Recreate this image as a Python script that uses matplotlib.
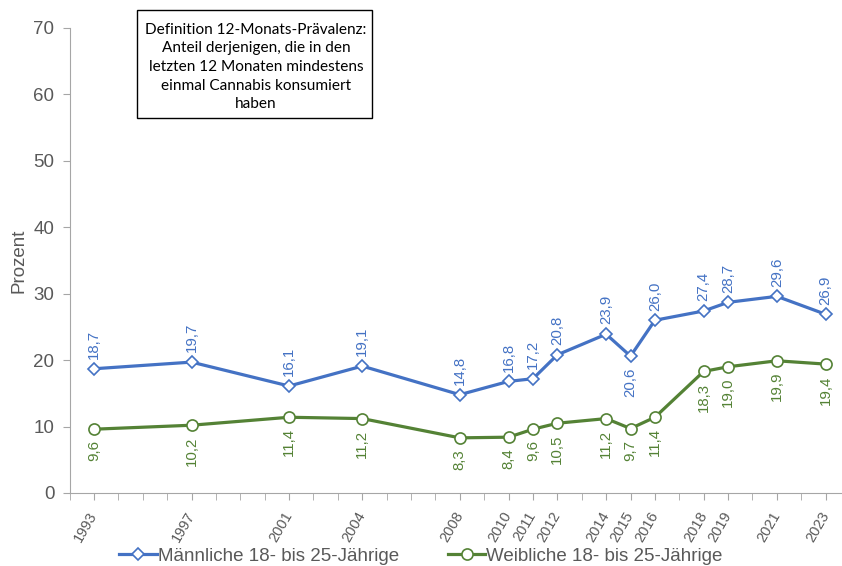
import matplotlib
matplotlib.use("Agg")
import matplotlib.pyplot as plt
from matplotlib.patches import Rectangle
from matplotlib.ticker import FixedLocator, MultipleLocator

years = [1993, 1997, 2001, 2004, 2008, 2010, 2011, 2012, 2014, 2015, 2016, 2018, 2019, 2021, 2023]
male = [18.7, 19.7, 16.1, 19.1, 14.8, 16.8, 17.2, 20.8, 23.9, 20.6, 26.0, 27.4, 28.7, 29.6, 26.9]
female = [9.6, 10.2, 11.4, 11.2, 8.3, 8.4, 9.6, 10.5, 11.2, 9.7, 11.4, 18.3, 19.0, 19.9, 19.4]
male_label = "Männliche 18- bis 25-Jährige"
female_label = "Weibliche 18- bis 25-Jährige"
y_label = "Prozent"
box_text = ("Definition 12-Monats-Prävalenz:\nAnteil derjenigen, die in den\n"
            "letzten 12 Monaten mindestens\neinmal Cannabis konsumiert\nhaben")
male_below = [2015]  # label placed below point

BLUE = "#4472C4"
GREEN = "#548235"
GRAY = "#595959"

plt.rcParams['font.family'] = ['Liberation Sans', 'DejaVu Sans']

fig = plt.figure(figsize=(8.42, 5.66), dpi=100)
ax = fig.add_axes([0.0826, 0.129, 0.9174, 0.8216])

ax.plot(years, male, color=BLUE, lw=2.3, marker='D', ms=6, mfc='white',
        mec=BLUE, mew=1.2, label=male_label, zorder=3)
ax.plot(years, female, color=GREEN, lw=2.3, marker='o', ms=8, mfc='white',
        mec=GREEN, mew=1.2, label=female_label, zorder=3)

def fmt(v):
    return f"{v:.1f}".replace('.', ',')

LBL = 10.8
for x, v in zip(years, male):
    if x in male_below:
        ax.annotate(fmt(v), (x, v), xytext=(0, -8), textcoords='offset points',
                    rotation=90, rotation_mode='anchor', ha='right', va='center',
                    color=BLUE, fontsize=LBL)
    else:
        ax.annotate(fmt(v), (x, v), xytext=(0, 7), textcoords='offset points',
                    rotation=90, rotation_mode='anchor', ha='left', va='center',
                    color=BLUE, fontsize=LBL)
for x, v in zip(years, female):
    ax.annotate(fmt(v), (x, v), xytext=(0, -8), textcoords='offset points',
                rotation=90, rotation_mode='anchor', ha='right', va='center',
                color=GREEN, fontsize=LBL)

ax.set_xlim(1992, 2023.67)
ax.set_ylim(0, 70)
ax.yaxis.set_major_locator(MultipleLocator(10))
ax.xaxis.set_major_locator(FixedLocator(years))
ax.xaxis.set_minor_locator(MultipleLocator(1))
ax.set_xticklabels([str(y) for y in years], rotation=60, ha='right', va='center',
                   rotation_mode='anchor', fontsize=10.5, color=GRAY)
ax.tick_params(axis='x', which='both', direction='out', length=5, color='#A6A6A6', pad=9)
ax.tick_params(axis='y', direction='out', length=5, color='#A6A6A6', labelsize=13.5,
               labelcolor=GRAY, pad=6)

for s in ['top', 'right']:
    ax.spines[s].set_visible(False)
ax.spines['left'].set_color('#A6A6A6')
ax.spines['bottom'].set_color('#A6A6A6')

ax.set_ylabel(y_label, fontsize=13.5, color=GRAY, labelpad=4)

fig.add_artist(Rectangle((137 / 842, 1 - 118 / 566), 235 / 842, 108 / 566,
                         transform=fig.transFigure, fc='white', ec='black', lw=1.0, zorder=5))
fig.text(256 / 842, 1 - 67 / 566, box_text, ha='center', va='center', fontsize=11.1,
         family=['Lato', 'DejaVu Sans'], linespacing=1.42, zorder=6)

leg = fig.legend(loc='center', bbox_to_anchor=(0.5, 0.017), ncol=2, frameon=False,
                 fontsize=13.5, handlelength=2.0, handletextpad=0.05,
                 columnspacing=2.6, labelcolor=GRAY)

fig.savefig("out.png", dpi=100)
